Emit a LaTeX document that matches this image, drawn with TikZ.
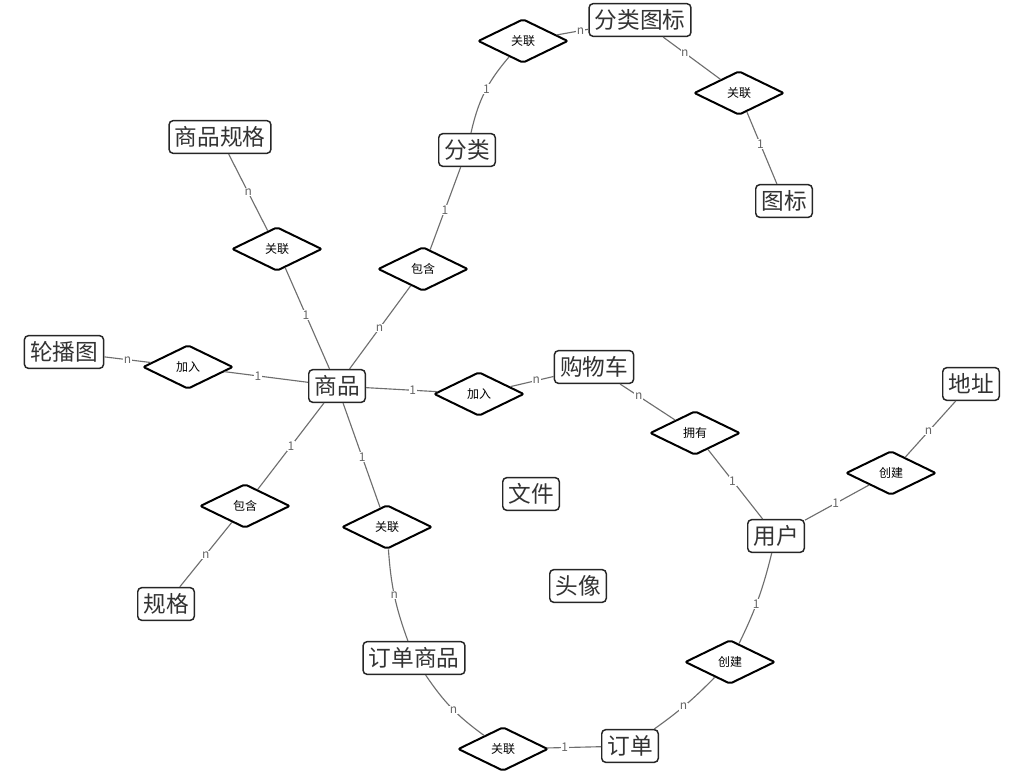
\documentclass[tikz,border=0pt]{standalone}
\usepackage{fontspec}
\setmainfont{Noto Sans CJK SC}
\usetikzlibrary{shapes.geometric}
\definecolor{ent}{HTML}{333333}
\definecolor{edgec}{HTML}{6E6E6E}
\definecolor{lab}{HTML}{666666}
\begin{document}
\begin{tikzpicture}[x=0.75pt,y=-0.75pt,
 entity/.style={draw=black!85, line width=1.1pt, rounded corners=3pt, fill=white, text=ent, font=\fontsize{17}{18}\selectfont, inner xsep=4.2pt, inner ysep=0pt, minimum height=24.5pt},
 rel/.style={diamond, draw=black, line width=1.5pt, rounded corners=1.5pt, fill=white, font=\fontsize{9}{10}\selectfont, inner sep=0pt, minimum width=67.5pt, minimum height=33pt},
 conn/.style={draw=edgec, line width=0.85pt},
 card/.style={fill=white, text=lab, font=\fontsize{9}{9}\selectfont, inner sep=0.5pt}
]
\useasboundingbox (0,0) rectangle (1035,778);
\node[entity] (flicon) at (640,20) {分类图标};
\node[entity] (icon) at (784,201) {图标};
\node[entity] (fl) at (467,150) {分类};
\node[entity] (spec2) at (220,137) {商品规格};
\node[entity] (banner) at (64,352) {轮播图};
\node[entity] (goods) at (337,386) {商品};
\node[entity] (cart) at (594,367) {购物车};
\node[entity] (addr) at (971,384) {地址};
\node[entity] (user) at (776,536) {用户};
\node[entity] (file) at (531,494) {文件};
\node[entity] (avatar) at (578,586) {头像};
\node[entity] (spec) at (166,604) {规格};
\node[entity] (og) at (414,658) {订单商品};
\node[entity] (order) at (630,746) {订单};

\node[rel] (r1) at (523,41) {关联};
\node[rel] (r2) at (739,93) {关联};
\node[rel] (r3) at (277,249) {关联};
\node[rel] (r4) at (423,269) {包含};
\node[rel] (r5) at (188,367) {加入};
\node[rel] (r6) at (479,394) {加入};
\node[rel] (r7) at (695,433) {拥有};
\node[rel] (r8) at (891,473) {创建};
\node[rel] (r9) at (245,506) {包含};
\node[rel] (r10) at (387,527) {关联};
\node[rel] (r11) at (730,662) {创建};
\node[rel] (r12) at (503,749) {关联};

\draw[conn] (fl) to[bend left=14] node[card,pos=.55]{1} (r1);
\draw[conn] (r1) to node[card,pos=.75]{n} (flicon);
\draw[conn] (flicon) to node[card,pos=.38]{n} (r2);
\draw[conn] (r2) to node[card,pos=.45]{1} (icon);
\draw[conn] (spec2) to node[card,pos=.5]{n} (r3);
\draw[conn] (r3) to node[card,pos=.47]{1} (goods);
\draw[conn] (goods) to node[card,pos=.49]{n} (r4);
\draw[conn] (r4) to node[card,pos=.48]{1} (fl);
\draw[conn] (banner) to node[card,pos=.5]{n} (r5);
\draw[conn] (r5) to node[card,pos=.4]{1} (goods);
\draw[conn] (goods) to node[card,pos=.65]{1} (r6);
\draw[conn] (r6) to node[card,pos=.6]{n} (cart);
\draw[conn] (cart) to node[card,pos=.34]{n} (r7);
\draw[conn] (r7) to node[card,pos=.45]{1} (user);
\draw[conn] (user) to node[card,pos=.48]{1} (r8);
\draw[conn] (r8) to node[card,pos=.46]{n} (addr);
\draw[conn] (goods) to node[card,pos=.5]{1} (r9);
\draw[conn] (r9) to node[card,pos=.5]{n} (spec);
\draw[conn] (goods) to node[card,pos=.52]{1} (r10);
\draw[conn] (r10) to[bend right=8] node[card,pos=.49]{n} (og);
\draw[conn] (og) to[bend right=10] node[card,pos=.53]{n} (r12);
\draw[conn] (r12) to node[card,pos=.33]{1} (order);
\draw[conn] (order) to[bend right=5] node[card,pos=.46]{n} (r11);
\draw[conn] (r11) to[bend right=6] node[card,pos=.44]{1} (user);
\end{tikzpicture}
\end{document}
